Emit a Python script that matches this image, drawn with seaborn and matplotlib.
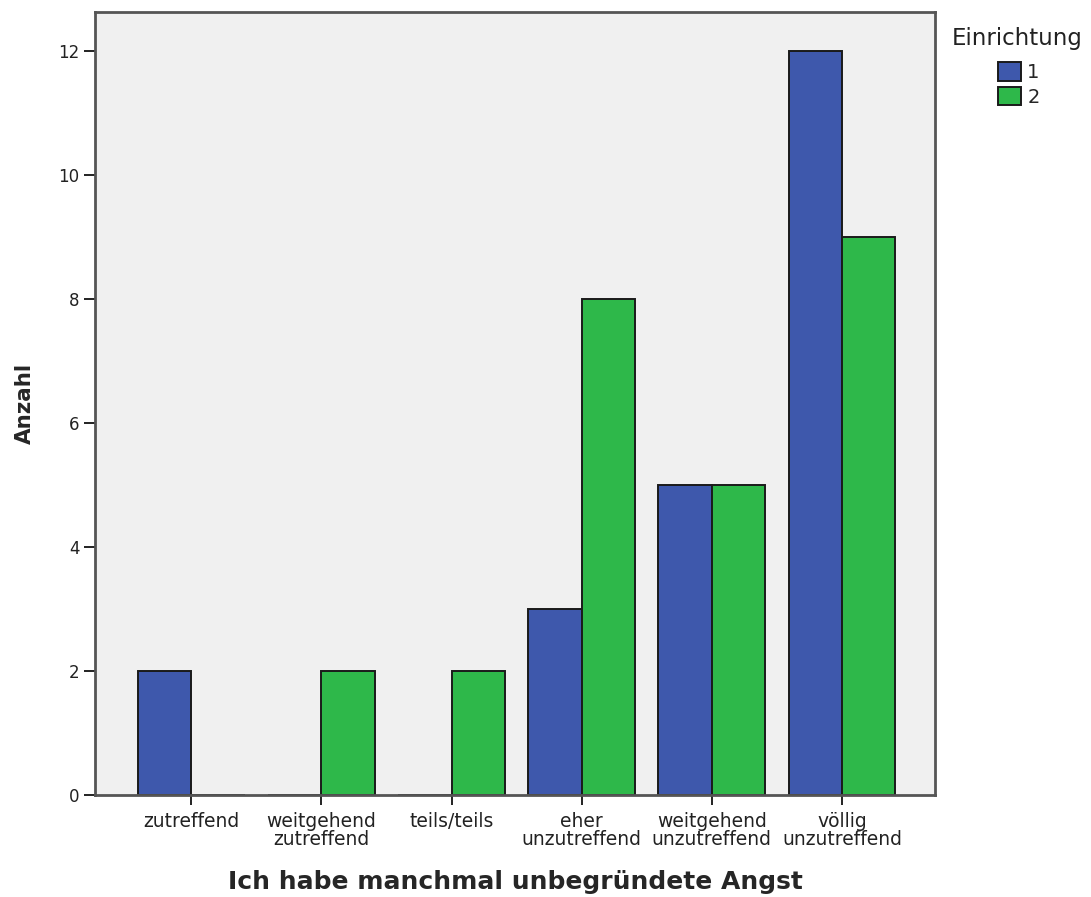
import matplotlib
matplotlib.use("Agg")
import matplotlib.pyplot as plt
import seaborn as sns
import pandas as pd

kategorien = ["zutreffend", "weitgehend\nzutreffend", "teils/teils",
              "eher\nunzutreffend", "weitgehend\nunzutreffend", "völlig\nunzutreffend"]
einrichtung_1 = [2, 0, 0, 3, 5, 12]
einrichtung_2 = [0, 2, 2, 8, 5, 9]

df = pd.DataFrame({
    "kategorie": kategorien * 2,
    "anzahl": einrichtung_1 + einrichtung_2,
    "Einrichtung": ["1"] * 6 + ["2"] * 6,
})

sns.set_style("white")
plt.rcParams['font.family'] = ['DejaVu Sans']

fig = plt.figure(figsize=(10.91, 8.97), dpi=100)
ax = fig.add_axes([0.087, 0.1137, 0.77, 0.8729])
ax.set_facecolor("#f0f0f0")

sns.barplot(data=df, x="kategorie", y="anzahl", hue="Einrichtung",
            palette={"1": "#3e58ac", "2": "#2eb84a"}, width=0.82,
            edgecolor="#1a1a1a", linewidth=1.4, ax=ax, saturation=1)

ax.set_ylim(0, 12.63)
ax.set_xlim(-0.74, 5.715)
ax.set_yticks([0, 2, 4, 6, 8, 10, 12])
ax.tick_params(axis="y", direction="out", length=8, width=1.4, color="#222222",
               labelsize=12, pad=3, left=True, labelcolor="#222222")
ax.tick_params(axis="x", direction="out", length=7, width=1.4, color="#222222",
               labelsize=13.5, pad=5, bottom=True, labelcolor="#222222")
for s in ax.spines.values():
    s.set_color("#555555")
    s.set_linewidth(2)

ax.set_ylabel("Anzahl", fontsize=15.5, fontweight="bold", labelpad=17)
ax.set_xlabel("Ich habe manchmal unbegründete Angst", fontsize=18, fontweight="bold", labelpad=15)
for lbl in ax.get_xticklabels():
    lbl.set_linespacing(0.95)

fig.text(952 / 1091, 1 - 38 / 897, "Einrichtung", ha="left", va="center",
         fontsize=16.5, color="#222222")
ax.legend(loc="upper left", bbox_to_anchor=(998 / 1091, 1 - 62 / 897),
          bbox_transform=fig.transFigure, frameon=False, fontsize=14,
          handlelength=1.2, handleheight=1.1, handletextpad=0.3,
          labelspacing=0.25, borderpad=0, borderaxespad=0)

fig.savefig("out.png", dpi=100)
